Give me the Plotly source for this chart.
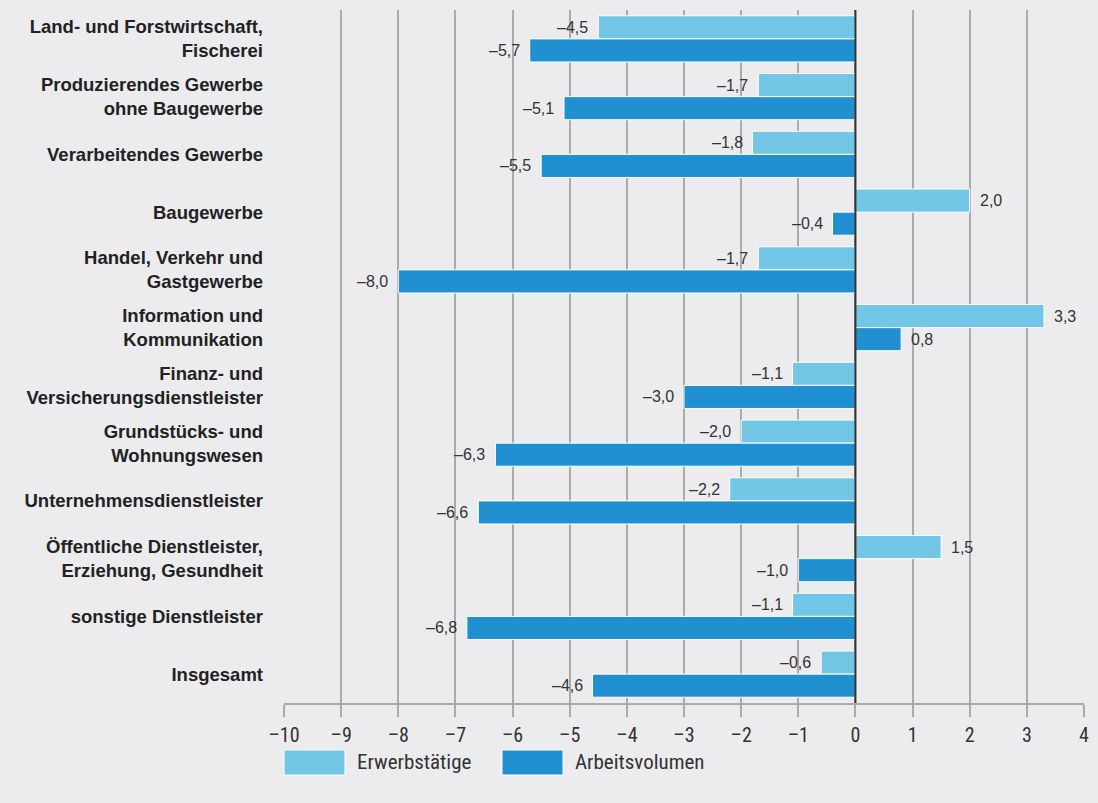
import plotly.graph_objects as go

categories = [
    "Land- und Forstwirtschaft,<br>Fischerei",
    "Produzierendes Gewerbe<br>ohne Baugewerbe",
    "Verarbeitendes Gewerbe",
    "Baugewerbe",
    "Handel, Verkehr und<br>Gastgewerbe",
    "Information und<br>Kommunikation",
    "Finanz- und<br>Versicherungsdienstleister",
    "Grundstücks- und<br>Wohnungswesen",
    "Unternehmensdienstleister",
    "Öffentliche Dienstleister,<br>Erziehung, Gesundheit",
    "sonstige Dienstleister",
    "Insgesamt",
]
erwerbstaetige = [-4.5, -1.7, -1.8, 2.0, -1.7, 3.3, -1.1, -2.0, -2.2, 1.5, -1.1, -0.6]
arbeitsvolumen = [-5.7, -5.1, -5.5, -0.4, -8.0, 0.8, -3.0, -6.3, -6.6, -1.0, -6.8, -4.6]
series_names = ["Erwerbstätige", "Arbeitsvolumen"]
tick_vals = list(range(-10, 5))
tick_text = [("–" + str(-v)) if v < 0 else str(v) for v in tick_vals]

LIGHT = "#72C6E6"
DARK = "#2190D0"
BG = "#ECECEE"
TXT = "#333333"
NARROW = "Liberation Sans Narrow, Roboto Condensed, Liberation Sans"


def fmt(v):
    s = f"{abs(v):.1f}".replace(".", ",")
    return ("–" + s) if v < 0 else s


fig = go.Figure()
for name, vals, col in [(series_names[0], erwerbstaetige, LIGHT), (series_names[1], arbeitsvolumen, DARK)]:
    fig.add_trace(go.Bar(
        y=categories, x=vals, orientation="h", name=name,
        marker=dict(color=col, line=dict(color="white", width=1)),
        showlegend=False,
    ))

# value labels
for offset, vals in [(-0.2, erwerbstaetige), (0.2, arbeitsvolumen)]:
    for i, v in enumerate(vals):
        fig.add_annotation(
            x=v, y=i + offset, xref="x", yref="y",
            text=fmt(v), showarrow=False,
            xanchor="right" if v < 0 else "left",
            xshift=-8 if v < 0 else 8,
            font=dict(family="Liberation Sans, Arial", size=16, color=TXT),
        )

# zero line drawn above the bars
fig.add_shape(type="line", xref="x", yref="paper", x0=0, x1=0, y0=0, y1=1,
              line=dict(color="#333333", width=2), layer="above")

# legend drawn manually
legend_items = [(series_names[0], LIGHT, 284), (series_names[1], DARK, 502)]
for name, col, x0 in legend_items:
    fig.add_shape(type="rect", xref="paper", yref="paper",
                  x0=(x0 - 284) / 800, x1=(x0 + 61 - 284) / 800,
                  y0=(703 - 775) / 693, y1=(703 - 750) / 693,
                  fillcolor=col, line=dict(color="white", width=1))
    fig.add_annotation(xref="paper", yref="paper", x=(x0 + 71 - 284) / 800, y=(703 - 762) / 693,
                       text=name, showarrow=False, xanchor="left", yanchor="middle",
                       font=dict(family=NARROW, size=21, color=TXT))

fig.update_layout(
    width=1098, height=803,
    margin=dict(l=284, r=14, t=10, b=100),
    paper_bgcolor=BG, plot_bgcolor=BG,
    barmode="group", bargap=0.2, bargroupgap=0,
    xaxis=dict(
        range=[-10, 4], tickvals=tick_vals, ticktext=tick_text,
        showgrid=True, gridcolor="#ABABAB", gridwidth=1.5,
        zeroline=False,
        showline=True, linecolor="#ABABAB", linewidth=1.5,
        ticks="outside", ticklen=12, tickcolor="#ABABAB", tickwidth=1.5,
        ticklabelstandoff=1,
        tickfont=dict(family=NARROW, size=20, color=TXT),
    ),
    yaxis=dict(
        autorange="reversed", showgrid=False, ticks="", ticklabelstandoff=20,
        tickfont=dict(family="Liberation Sans, Arial", size=18.5, color="#222222", weight="bold"),
    ),
)

fig.write_html("out.html", config={"displayModeBar": False},
               post_script="document.body.style.margin='0';document.body.style.background='#ECECEE';")
